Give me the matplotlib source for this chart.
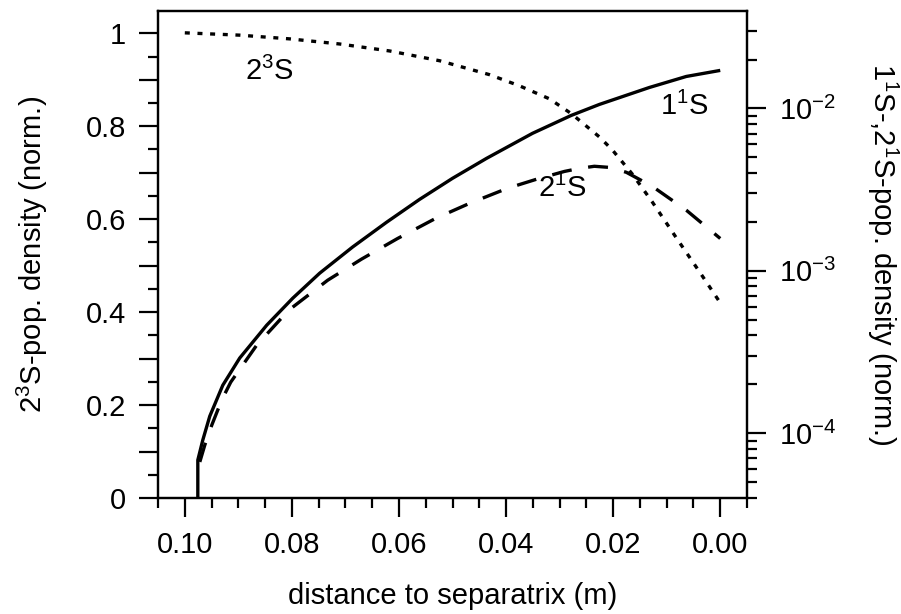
import matplotlib
matplotlib.use("Agg")
import matplotlib.pyplot as plt
from matplotlib.ticker import MultipleLocator, FuncFormatter, LogLocator, NullFormatter

plt.rcParams['font.family'] = ['Liberation Sans', 'DejaVu Sans']
plt.rcParams['mathtext.default'] = 'regular'

# 2^3S population (left axis, linear, normalised)
dist_23s = [0.1000, 0.08974, 0.08041, 0.07108, 0.06175, 0.05243, 0.04310,
            0.03750, 0.03190, 0.02780, 0.02257, 0.02015, 0.01642, 0.01269,
            0.00821, 0.00336, 0.0]
dens_23s = [1.001, 0.996, 0.988, 0.977, 0.962, 0.941, 0.911,
            0.887, 0.859, 0.827, 0.777, 0.749, 0.697, 0.637,
            0.560, 0.478, 0.420]

# 1^1S population (right axis, log)
dist_11s = [0.09757, 0.09757, 0.09664, 0.09534, 0.09291, 0.08974, 0.08470,
            0.07985, 0.07481, 0.06866, 0.06231, 0.05616, 0.05000, 0.04366,
            0.03507, 0.02780, 0.02257, 0.01325, 0.00634, 0.0]
dens_11s = [1e-6, 6.82e-5, 9.06e-5, 1.27e-4, 1.97e-4, 2.90e-4, 4.62e-4,
            6.77e-4, 9.66e-4, 1.40e-3, 1.99e-3, 2.75e-3, 3.71e-3, 4.92e-3,
            7.02e-3, 9.06e-3, 1.058e-2, 1.345e-2, 1.573e-2, 1.714e-2]

# 2^1S population (right axis, log)
dist_21s = [0.09720, 0.09627, 0.09496, 0.09310, 0.09142, 0.08657, 0.08060,
            0.07332, 0.06698, 0.06026, 0.05317, 0.04683, 0.03974, 0.03433,
            0.02910, 0.02631, 0.02351, 0.02071, 0.01754, 0.01269, 0.00634, 0.0]
dens_21s = [6.64e-5, 8.43e-5, 1.12e-4, 1.60e-4, 2.06e-4, 3.48e-4, 5.71e-4,
            8.74e-4, 1.18e-3, 1.58e-3, 2.10e-3, 2.60e-3, 3.22e-3, 3.66e-3,
            4.09e-3, 4.27e-3, 4.40e-3, 4.33e-3, 4.04e-3, 3.31e-3, 2.36e-3, 1.58e-3]

fig = plt.figure(figsize=(9.01, 6.14), dpi=100)
ax = fig.add_axes([0.1754, 0.1889, 0.6537, 0.7932])
ax2 = ax.twinx()

lw = 2.4
ax.plot(dist_23s, dens_23s, color='black', lw=lw, dashes=(1.5, 2.3))
ax2.plot(dist_11s, dens_11s, color='black', lw=lw, solid_capstyle='butt')
ax2.plot(dist_21s, dens_21s, color='black', lw=lw, dashes=(6, 5))

ax.set_xlim(0.105, -0.005)
ax.set_ylim(0, 1.048)
ax2.set_yscale('log')
ax2.set_ylim(10 ** -4.4, 10 ** -1.4)

ax.xaxis.set_major_locator(MultipleLocator(0.02))
ax.xaxis.set_minor_locator(MultipleLocator(0.005))
ax.xaxis.set_major_formatter(FuncFormatter(lambda v, p: f"{abs(v):.2f}"))

ax.yaxis.set_major_locator(MultipleLocator(0.1))
ax.yaxis.set_minor_locator(MultipleLocator(0.05))
ax.yaxis.set_major_formatter(
    FuncFormatter(lambda v, p: f"{v:g}" if round(v * 10) % 2 == 0 else ""))

ax2.yaxis.set_major_locator(LogLocator(base=10))
ax2.yaxis.set_minor_locator(LogLocator(base=10, subs=range(2, 10)))
ax2.yaxis.set_minor_formatter(NullFormatter())

fs = 21
for a in (ax, ax2):
    for s in a.spines.values():
        s.set_linewidth(1.6)
ax.tick_params(axis='both', which='major', direction='out', length=14,
               width=1.6, labelsize=fs, pad=9)
ax.tick_params(axis='both', which='minor', direction='out', length=7, width=1.6)
ax.tick_params(axis='x', which='major', pad=10)
ax2.tick_params(axis='y', which='major', direction='out', length=14,
                width=1.6, labelsize=fs, pad=9)
ax2.tick_params(axis='y', which='minor', direction='out', length=7, width=1.6)

ax.set_xlabel("distance to separatrix (m)", fontsize=fs, labelpad=16)
ax.set_ylabel("$2^3$S-pop. density (norm.)", fontsize=fs, labelpad=26)
ax2.set_ylabel("$1^1$S-,$2^1$S-pop. density (norm.)", fontsize=fs,
               rotation=-90, labelpad=46)

ax.text(0.0843, 0.917, "$2^3$S", fontsize=fs, ha='center', va='center')
ax.text(0.0067, 0.842, "$1^1$S", fontsize=fs, ha='center', va='center')
ax.text(0.0295, 0.667, "$2^1$S", fontsize=fs, ha='center', va='center')

fig.savefig("out.png", dpi=100)
